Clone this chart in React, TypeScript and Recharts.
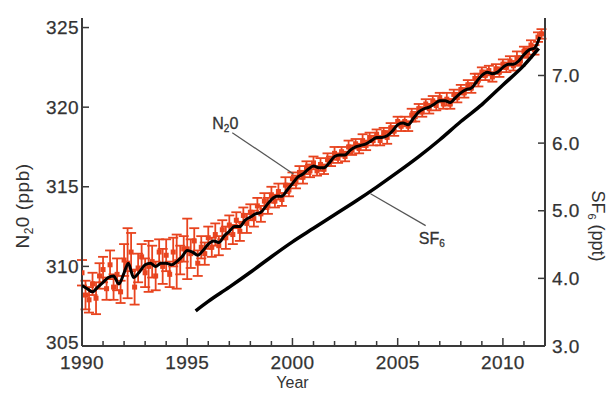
import React from "react";
import {
  ComposedChart,
  ErrorBar,
  Line,
  ReferenceDot,
  ReferenceLine,
  Scatter,
  XAxis,
  YAxis,
} from "recharts";

// smoothed N2O record (ppb)
const smoothYears = [
  1990.0, 1990.25, 1990.5, 1990.75, 1991.0, 1991.25, 1991.5, 1991.75,
  1992.0, 1992.2, 1992.45, 1992.7, 1993.0, 1993.25, 1993.5, 1993.75,
  1994.0, 1994.25, 1994.5, 1994.75, 1995.0, 1995.25, 1995.5, 1995.75,
  1996.0, 1996.25, 1996.5, 1996.75, 1997.0, 1997.25, 1997.5, 1997.75,
  1998.0, 1998.25, 1998.5, 1998.75, 1999.0, 1999.25, 1999.5, 1999.75,
  2000.0, 2000.25, 2000.5, 2000.75, 2001.0, 2001.25, 2001.5, 2001.75,
  2002.0, 2002.25, 2002.5, 2002.75, 2003.0, 2003.25, 2003.5, 2003.75,
  2004.0, 2004.25, 2004.5, 2004.75, 2005.0, 2005.25, 2005.5, 2005.75,
  2006.0, 2006.25, 2006.5, 2006.75, 2007.0, 2007.25, 2007.5, 2007.75,
  2008.0, 2008.25, 2008.5, 2008.75, 2009.0, 2009.25, 2009.5, 2009.75,
  2010.0, 2010.25, 2010.5, 2010.75, 2011.0, 2011.25, 2011.5, 2011.75,
];
const smoothN2O = [
  308.8, 308.6, 308.4, 308.7, 309.0, 309.3, 309.4, 308.9,
  309.6, 310.2, 309.3, 309.6, 310.1, 310.2, 310.0, 310.2,
  310.2, 310.1, 310.3, 310.6, 311.0, 310.9, 310.7, 311.0,
  311.4, 311.6, 311.5, 311.9, 312.2, 312.5, 312.5, 312.9,
  313.1, 313.3, 313.4, 313.8, 314.2, 314.4, 314.4, 314.8,
  315.2, 315.6, 315.8, 316.1, 316.3, 316.2, 316.2, 316.5,
  316.9, 317.0, 317.0, 317.3, 317.5, 317.6, 317.7, 317.9,
  318.1, 318.1, 318.2, 318.5, 318.9, 319.0, 318.9, 319.3,
  319.7, 319.9, 320.0, 320.2, 320.4, 320.4, 320.3, 320.6,
  320.9, 321.1, 321.2, 321.6, 322.0, 322.2, 322.1, 322.2,
  322.5, 322.7, 322.7, 322.9, 323.3, 323.6, 323.7, 324.4,
];

// individual N2O observations, two-monthly from 1990 (ppb) and their errors
const obsStart = 1990;
const obsN2O = [
  309.6, 308.2, 307.9, 308.9, 308.0, 309.4,
  309.8, 308.6, 310.1, 308.7, 309.5, 308.4,
  310.4, 310.2, 310.9, 308.7, 309.9, 310.6,
  309.6, 310.0, 310.3, 309.4, 310.9, 310.0,
  310.7, 309.5, 310.9, 310.3, 310.4, 311.1,
  311.1, 310.8, 311.6, 310.2, 311.2, 310.8,
  311.8, 311.2, 312.0, 311.3, 312.3, 311.8,
  312.6, 312.0, 312.9, 312.2, 313.2, 312.7,
  313.4, 313.0, 313.8, 313.3, 314.1, 313.8,
  314.5, 314.1, 314.7, 314.2, 315.1, 314.8,
  315.5, 315.3, 315.9, 315.6, 316.2, 316.0,
  316.5, 316.0, 316.4, 316.1, 316.7, 316.6,
  317.1, 316.8, 317.2, 316.9, 317.5, 317.3,
  317.7, 317.4, 317.9, 317.6, 318.1, 317.9,
  318.3, 317.9, 318.4, 318.1, 318.7, 318.5,
  319.1, 318.8, 319.1, 318.8, 319.5, 319.4,
  319.9, 319.7, 320.2, 319.9, 320.4, 320.1,
  320.6, 320.2, 320.5, 320.2, 320.8, 320.6,
  321.1, 320.9, 321.4, 321.2, 321.8, 321.7,
  322.2, 322.0, 322.3, 321.9, 322.4, 322.2,
  322.7, 322.5, 322.9, 322.6, 323.1, 322.9,
  323.5, 323.4, 323.9, 323.6, 324.4, 324.6,
];
const obsErr = [
  0.8, 0.9, 0.8, 0.7, 1.0, 0.8,
  0.8, 0.7, 0.9, 0.8, 1.0, 0.7,
  1.0, 2.2, 1.2, 1.1, 0.9, 0.8,
  0.9, 1.6, 1.0, 0.9, 0.8, 1.1,
  1.0, 0.8, 0.9, 1.7, 0.9, 0.8,
  1.9, 0.9, 0.8, 0.8, 0.7, 0.7,
  0.7, 0.6, 0.7, 0.6, 0.6, 0.7,
  0.6, 0.6, 0.5, 0.6, 0.5, 0.6,
  0.5, 0.5, 0.5, 0.5, 0.5, 0.5,
  0.5, 0.4, 0.5, 0.4, 0.5, 0.4,
  0.4, 0.4, 0.4, 0.4, 0.4, 0.4,
  0.4, 0.3, 0.4, 0.3, 0.4, 0.3,
  0.4, 0.3, 0.3, 0.3, 0.4, 0.3,
  0.3, 0.3, 0.4, 0.3, 0.3, 0.3,
  0.3, 0.3, 0.3, 0.4, 0.3, 0.3,
  0.3, 0.3, 0.3, 0.3, 0.4, 0.3,
  0.3, 0.3, 0.3, 0.3, 0.3, 0.3,
  0.3, 0.3, 0.4, 0.3, 0.3, 0.3,
  0.3, 0.3, 0.3, 0.3, 0.3, 0.4,
  0.3, 0.3, 0.3, 0.3, 0.3, 0.3,
  0.3, 0.3, 0.3, 0.3, 0.4, 0.3,
  0.3, 0.3, 0.3, 0.3, 0.3, 0.3,
];

// SF6 (ppt)
const sf6Years = [
  1995.4, 1996, 1997, 1998, 1999, 2000, 2001, 2002, 2003, 2004, 2005, 2006,
  2007, 2008, 2009, 2010, 2011, 2011.7,
];
const sf6 = [
  3.52, 3.66, 3.87, 4.09, 4.32, 4.54, 4.74, 4.94, 5.14, 5.35, 5.57, 5.8,
  6.05, 6.32, 6.57, 6.86, 7.15, 7.4,
];

const yearTicks = [
  1990, 1991, 1992, 1993, 1994, 1995, 1996, 1997, 1998, 1999, 2000, 2001,
  2002, 2003, 2004, 2005, 2006, 2007, 2008, 2009, 2010, 2011, 2012,
];
const n2oTicks = [305, 310, 315, 320, 325];
const sf6Ticks = [3, 4, 5, 6, 7];

const smoothData = smoothYears.map((year, i) => ({ year, n2o: smoothN2O[i] }));
const obsData = obsN2O.map((n2o, i) => ({
  year: obsStart + i / 6,
  n2o,
  err: obsErr[i],
}));
const sf6Data = sf6Years.map((year, i) => ({ year, sf6: sf6[i] }));

const W = 613;
const H = 393;
const MARGIN = { top: 18, right: 0, bottom: 0, left: 0 };
const AXIS = "#3a3a3a";
const TEXT = "#333";
const RED = "#e8441f";
const FONT = "'Liberation Sans', Arial, sans-serif";
const tickText = {
  fontSize: 19,
  fill: TEXT,
  fontFamily: FONT,
  letterSpacing: 0.4,
  stroke: TEXT,
  strokeWidth: 0.25,
};

const BottomTick = ({ x, y, payload }: any) => {
  const major = payload.value % 5 === 0;
  return (
    <g>
      <line x1={x} x2={x} y1={y} y2={y - (major ? 8 : 5)} stroke={AXIS} strokeWidth={1.5} />
      {major && payload.value < 2012 && (
        <text x={x} y={y + 23} textAnchor="middle" {...tickText}>
          {payload.value}
        </text>
      )}
    </g>
  );
};

const TopTick = ({ x, y, payload }: any) => {
  const major = payload.value % 5 === 0;
  return (
    <line x1={x} x2={x} y1={y} y2={y + (major ? 8 : 5)} stroke={AXIS} strokeWidth={1.5} />
  );
};

// the lowest label sits a little higher so that it clears "1990"
const LeftTick = ({ x, y, payload }: any) => (
  <g>
    <line x1={x} x2={x + 7} y1={y} y2={y} stroke={AXIS} strokeWidth={1.5} />
    <text
      x={x - 3}
      y={y + (payload.value === 305 ? 2.5 : 6.5)}
      textAnchor="end"
      {...tickText}
    >
      {payload.value}
    </text>
  </g>
);

const RightTick = ({ x, y, payload }: any) => (
  <g>
    <line x1={x} x2={x - 7} y1={y} y2={y} stroke={AXIS} strokeWidth={1.5} />
    <text x={x + 7} y={y + 6.5} textAnchor="start" {...tickText}>
      {payload.value.toFixed(1)}
    </text>
  </g>
);

const renderYearLabel = ({ viewBox }: any) => (
  <text
    x={viewBox.x + viewBox.width / 2 - 21}
    y={viewBox.y + 42}
    textAnchor="middle"
    fontSize={16}
    fill={TEXT}
    fontFamily={FONT}
  >
    Year
  </text>
);

const renderN2OAxisLabel = ({ viewBox }: any) => {
  const cx = viewBox.x + 29;
  const cy = viewBox.y + viewBox.height / 2 + 24;
  return (
    <text
      x={cx}
      y={cy}
      transform={`rotate(-90 ${cx} ${cy})`}
      textAnchor="middle"
      fontSize={19}
      fill={TEXT}
      fontFamily={FONT}
      letterSpacing={0.5}
    >
      N<tspan fontSize={12} dy={4}>2</tspan>
      <tspan dy={-4}>0 (ppb)</tspan>
    </text>
  );
};

const renderSF6AxisLabel = ({ viewBox }: any) => {
  const cx = viewBox.x + 47;
  const cy = viewBox.y + viewBox.height / 2 + 44;
  return (
    <text
      x={cx}
      y={cy}
      transform={`rotate(90 ${cx} ${cy})`}
      textAnchor="middle"
      fontSize={18}
      fill={TEXT}
      fontFamily={FONT}
    >
      SF<tspan fontSize={11} dy={4}>6</tspan>
      <tspan dy={-4}> (ppt)</tspan>
    </text>
  );
};

const renderN2OTag = ({ viewBox }: any) => (
  <text
    x={viewBox.x}
    y={viewBox.y}
    fontSize={16}
    fill={TEXT}
    fontFamily={FONT}
    stroke={TEXT}
    strokeWidth={0.3}
  >
    N<tspan fontSize={10} dy={3}>2</tspan>
    <tspan dy={-3}>0</tspan>
  </text>
);

const renderSF6Tag = ({ viewBox }: any) => (
  <text
    x={viewBox.x}
    y={viewBox.y}
    fontSize={16}
    fill={TEXT}
    fontFamily={FONT}
    stroke={TEXT}
    strokeWidth={0.3}
  >
    SF<tspan fontSize={10} dy={3}>6</tspan>
  </text>
);

const Dot = ({ cx, cy }: any) => (
  <rect x={cx - 2.5} y={cy - 2.5} width={5} height={5} fill={RED} />
);

// shared axis setup, so that the overlay plots into exactly the same box
const axes = (visible: boolean) => [
  <XAxis
    key="x"
    dataKey="year"
    type="number"
    domain={[1990, 2012]}
    ticks={yearTicks}
    interval={0}
    height={47}
    tickSize={0}
    tickMargin={0}
    tickLine={false}
    tick={visible ? BottomTick : false}
    axisLine={visible ? { stroke: AXIS, strokeWidth: 2 } : false}
    allowDataOverflow
    label={visible ? renderYearLabel : undefined}
  />,
  <XAxis
    key="xt"
    xAxisId="top"
    dataKey="year"
    type="number"
    orientation="top"
    domain={[1990, 2012]}
    ticks={yearTicks}
    interval={0}
    height={0}
    tickSize={0}
    tickMargin={0}
    tickLine={false}
    tick={visible ? TopTick : false}
    axisLine={visible ? { stroke: AXIS, strokeWidth: 2 } : false}
    allowDataOverflow
  />,
  <YAxis
    key="yl"
    yAxisId="left"
    type="number"
    domain={[305, 325.6]}
    ticks={n2oTicks}
    interval={0}
    width={82}
    tickSize={0}
    tickMargin={0}
    tickLine={false}
    tick={visible ? LeftTick : false}
    axisLine={visible ? { stroke: AXIS, strokeWidth: 2 } : false}
    allowDataOverflow
    label={visible ? renderN2OAxisLabel : undefined}
  />,
  <YAxis
    key="yr"
    yAxisId="right"
    orientation="right"
    type="number"
    domain={[3, 7.85]}
    ticks={sf6Ticks}
    interval={0}
    width={68}
    tickSize={0}
    tickMargin={0}
    tickLine={false}
    tick={visible ? RightTick : false}
    axisLine={visible ? { stroke: AXIS, strokeWidth: 2 } : false}
    allowDataOverflow
    label={visible ? renderSF6AxisLabel : undefined}
  />,
];

export default function App() {
  return (
    <div style={{ position: "relative", width: W, height: H, background: "#fff" }}>
      <style>{"body{margin:0}"}</style>
      <div style={{ position: "absolute", left: 0, top: 0 }}>
        <ComposedChart width={W} height={H} margin={MARGIN}>
          {axes(true)}
          <Scatter
            yAxisId="left"
            data={obsData}
            dataKey="n2o"
            fill={RED}
            shape={Dot}
            isAnimationActive={false}
          >
            <ErrorBar dataKey="err" direction="y" width={5} stroke={RED} strokeWidth={1.8} />
          </Scatter>
          <ReferenceLine
            yAxisId="left"
            segment={[
              { x: 1997.14, y: 318.4 },
              { x: 2000.05, y: 315.8 },
            ]}
            stroke="#555"
            strokeWidth={1.2}
            ifOverflow="visible"
          />
          <ReferenceLine
            yAxisId="right"
            segment={[
              { x: 2003.71, y: 5.25 },
              { x: 2006.33, y: 4.78 },
            ]}
            stroke="#555"
            strokeWidth={1.2}
            ifOverflow="visible"
          />
          <ReferenceDot
            yAxisId="left"
            x={1996.19}
            y={318.65}
            r={0}
            fill="none"
            stroke="none"
            ifOverflow="visible"
            label={renderN2OTag}
          />
          <ReferenceDot
            yAxisId="right"
            x={2006.0}
            y={4.51}
            r={0}
            fill="none"
            stroke="none"
            ifOverflow="visible"
            label={renderSF6Tag}
          />
        </ComposedChart>
      </div>
      <div style={{ position: "absolute", left: 0, top: 0 }}>
        <ComposedChart width={W} height={H} margin={MARGIN}>
          {axes(false)}
          <Line
            yAxisId="left"
            data={smoothData}
            dataKey="n2o"
            type="monotone"
            stroke="#000"
            strokeWidth={3}
            dot={false}
            isAnimationActive={false}
          />
          <Line
            yAxisId="right"
            data={sf6Data}
            dataKey="sf6"
            type="monotone"
            stroke="#000"
            strokeWidth={3.5}
            dot={false}
            isAnimationActive={false}
          />
        </ComposedChart>
      </div>
    </div>
  );
}
